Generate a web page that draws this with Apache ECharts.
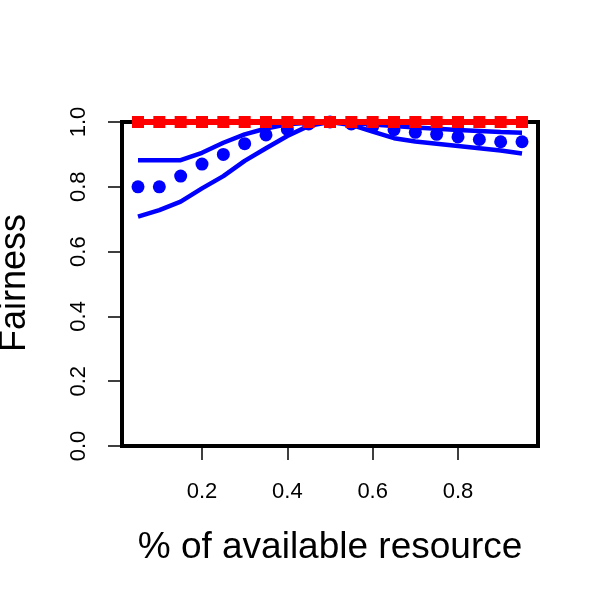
<!DOCTYPE html>
<html>
<head>
<meta charset="utf-8">
<script src="https://cdn.jsdelivr.net/npm/echarts@6/dist/echarts.min.js"></script>
<style>html,body{margin:0;padding:0;background:#fff}#c{width:600px;height:600px}</style>
</head>
<body>
<div id="c"></div>
<script>
var xValues = [0.05,0.10,0.15,0.20,0.25,0.30,0.35,0.40,0.45,0.50,0.55,0.60,0.65,0.70,0.75,0.80,0.85,0.90,0.95];
var redValues = [1,1,1,1,1,1,1,1,1,1,1,1,1,1,1,1,1,1,1];
var meanValues = [0.800,0.800,0.833,0.870,0.900,0.933,0.960,0.977,0.994,1.000,0.994,0.986,0.976,0.968,0.962,0.954,0.946,0.939,0.939];
var upperValues = [0.882,0.882,0.882,0.905,0.936,0.962,0.980,0.993,0.998,1.000,0.996,0.992,0.988,0.983,0.979,0.975,0.972,0.969,0.967];
var lowerValues = [0.708,0.728,0.754,0.795,0.833,0.880,0.919,0.957,0.988,1.000,0.991,0.970,0.950,0.940,0.933,0.926,0.919,0.912,0.903];
var xTicks = [0.2,0.4,0.6,0.8];
var yTicks = [0,0.2,0.4,0.6,0.8,1.0];
var xTitle = '% of available resource';
var yTitle = 'Fairness';

function pairs(ys){ return xValues.map(function(x,i){ return [x, ys[i]]; }); }
var FONT = '"Liberation Sans", Arial, Helvetica, sans-serif';

var chart = echarts.init(document.getElementById('c'), null, {renderer:'canvas'});
chart.setOption({
  animation:false,
  backgroundColor:'#ffffff',
  grid:{left:122,right:62,top:122,bottom:154,show:true,borderColor:'#000',borderWidth:4,backgroundColor:'transparent'},
  xAxis:{
    type:'value',min:0.0125,max:0.9875,
    axisLine:{show:false},
    splitLine:{show:false},
    axisTick:{show:true,length:14,inside:false,customValues:xTicks,lineStyle:{color:'#000',width:1.5}},
    axisLabel:{show:true,customValues:xTicks,margin:35,fontSize:22,color:'#000',fontFamily:FONT,
      formatter:function(v){return v.toFixed(1);}}
  },
  yAxis:{
    type:'value',min:0,max:1,interval:0.2,
    axisLine:{show:false},
    splitLine:{show:false},
    axisTick:{show:true,length:14,inside:false,customValues:yTicks,lineStyle:{color:'#000',width:1.5}},
    axisLabel:{show:true,customValues:yTicks,rotate:90,margin:32,fontSize:22,color:'#000',fontFamily:FONT,
      formatter:function(v){return v.toFixed(1);}}
  },
  graphic:[
    {type:'text',position:[330,548],style:{text:xTitle,font:'37px '+FONT,fill:'#000',textAlign:'center',textVerticalAlign:'middle'}},
    {type:'text',position:[15,283],rotation:Math.PI/2,style:{text:yTitle,font:'36px '+FONT,fill:'#000',textAlign:'center',textVerticalAlign:'middle'}}
  ],
  series:[
    {type:'line',data:pairs(upperValues),symbol:'none',lineStyle:{color:'#0000ff',width:4.5},z:3},
    {type:'line',data:pairs(lowerValues),symbol:'none',lineStyle:{color:'#0000ff',width:4.5},z:3},
    {type:'scatter',data:pairs(meanValues),symbol:'circle',symbolSize:13,itemStyle:{color:'#0000ff',opacity:1},z:4},
    {type:'line',data:pairs(redValues),symbol:'rect',symbolSize:12,showSymbol:true,lineStyle:{color:'#ff0000',width:6},itemStyle:{color:'#ff0000'},z:5}
  ]
});
</script>
</body>
</html>
